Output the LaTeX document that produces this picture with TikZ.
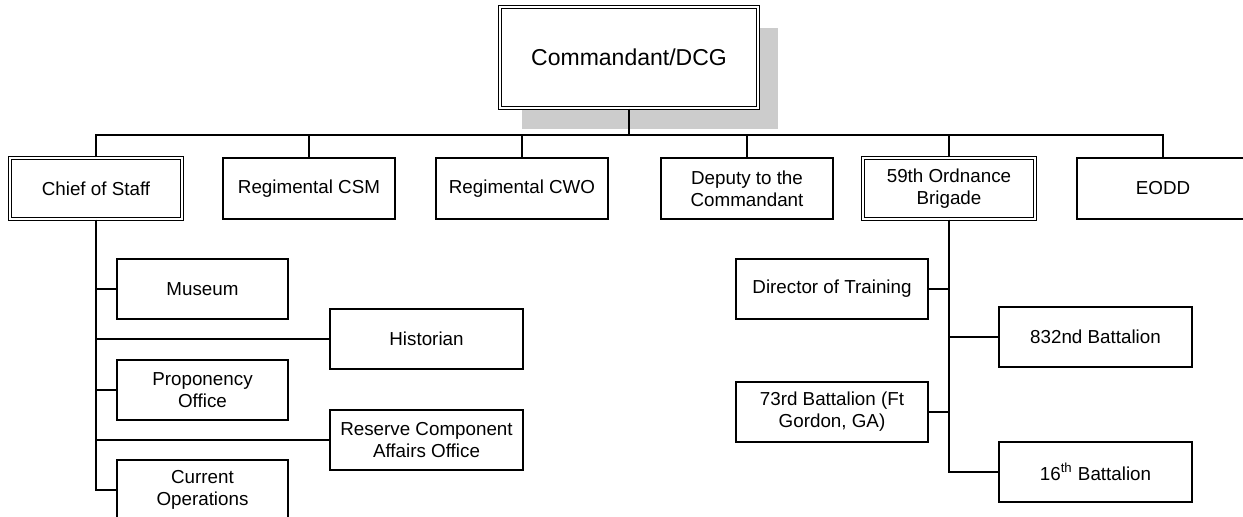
\documentclass[tikz,border=0pt]{standalone}
\usepackage{fontspec}
\setmainfont{Liberation Sans}
\begin{document}
\begin{tikzpicture}[x=0.5pt,y=-0.5pt,
  line width=0.7pt,
  orgbox/.style 2 args={draw, fill=white, align=center, inner sep=0pt,
     minimum width=#1*0.5pt, minimum height=#2*0.5pt,
     font=\fontsize{9.4}{11}\selectfont},
  dbl/.style={double, double distance=1.1pt, line width=0.55pt},
  shadowbox/.style={fill=black!20, draw=none}]
\useasboundingbox (0,0) rectangle (1243,517);
\clip (0,0) rectangle (1243,517);
% top
\fill[shadowbox] (522,28) rectangle (778,129);
\node[orgbox={258}{101}, dbl, font=\fontsize{11.5}{13}\selectfont] (top) at (629,57.5) {Commandant/DCG};
% level 2
\node[orgbox={172}{61}, dbl] (cos) at (96,188.5) {Chief of Staff};
\node[orgbox={172}{61}] (csm) at (309,188.5) {Regimental CSM};
\node[orgbox={172}{61}] (cwo) at (522,188.5) {Regimental CWO};
\node[orgbox={172}{61}] (dep) at (747,188.5) {Deputy to the\\Commandant};
\node[orgbox={172}{61}, dbl] (bde) at (949,188.5) {59th Ordnance\\Brigade};
\node[orgbox={172}{61}] (eodd) at (1163,188.5) {EODD};
\coordinate (bus) at (629,135);
\draw (top.south) -- (top.south |- bus);
\draw (cos.north) -- (cos.north |- bus) -- (eodd.north |- bus) -- (eodd.north);
\draw (csm.north) -- (csm.north |- bus);
\draw (cwo.north) -- (cwo.north |- bus);
\draw (dep.north) -- (dep.north |- bus);
\draw (bde.north) -- (bde.north |- bus);
% chief of staff subordinates
\node[orgbox={171}{60}] (mus) at (202.5,289) {Museum};
\node[orgbox={193}{60}] (his) at (426.5,339) {Historian};
\node[orgbox={171}{60}] (pro) at (202.5,390) {Proponency\\Office};
\node[orgbox={193}{60}] (res) at (426.5,440) {Reserve Component\\Affairs Office};
\node[orgbox={171}{60}] (cur) at (202.5,490) {Current\\Operations};
\draw (cos.south) -- (cos.south |- cur.west) -- (cur.west);
\draw (mus.west) -- (mus.west -| cos.south);
\draw (his.west) -- (his.west -| cos.south);
\draw (pro.west) -- (pro.west -| cos.south);
\draw (res.west) -- (res.west -| cos.south);
% brigade subordinates
\node[orgbox={192}{60}] (dot) at (832,289) {Director of Training};
\node[orgbox={193}{60}] (b832) at (1095.5,337) {832nd Battalion};
\node[orgbox={192}{60}] (b73) at (832,412) {73rd Battalion (Ft\\Gordon, GA)};
\node[orgbox={193}{60}] (b16) at (1095.5,472) {16\textsuperscript{th} Battalion};
\draw (bde.south) -- (bde.south |- b16.west) -- (b16.west);
\draw (dot.east) -- (dot.east -| bde.south);
\draw (b832.west) -- (b832.west -| bde.south);
\draw (b73.east) -- (b73.east -| bde.south);
\end{tikzpicture}
\end{document}
